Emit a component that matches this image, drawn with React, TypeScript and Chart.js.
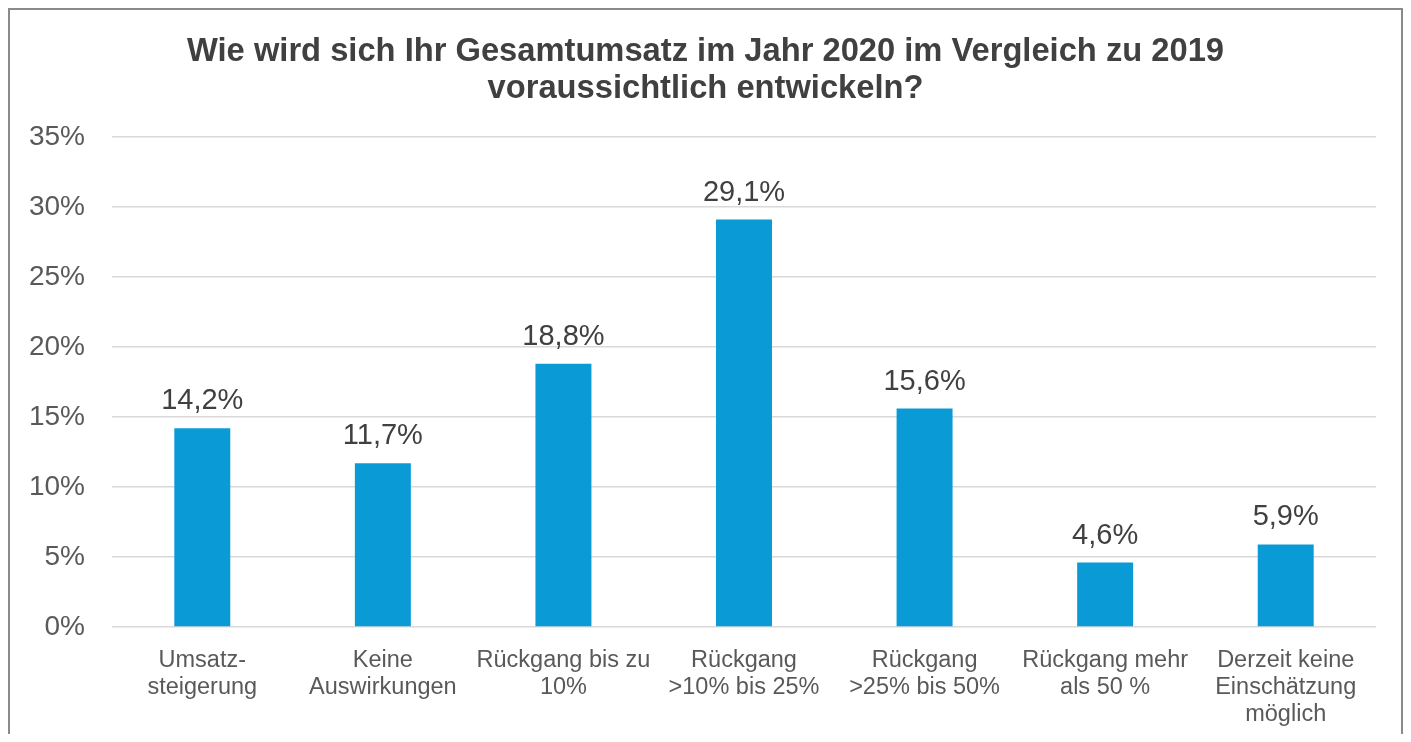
import React, { useEffect, useRef } from "react";
import { Chart, registerables } from "chart.js";

Chart.register(...registerables);

const titleLines = [
  "Wie wird sich Ihr Gesamtumsatz im Jahr 2020 im Vergleich zu 2019",
  "voraussichtlich entwickeln?",
];

const categories: string[][] = [
  ["Umsatz-", "steigerung"],
  ["Keine", "Auswirkungen"],
  ["Rückgang bis zu", "10%"],
  ["Rückgang", ">10% bis 25%"],
  ["Rückgang", ">25% bis 50%"],
  ["Rückgang mehr", "als 50 %"],
  ["Derzeit keine", "Einschätzung", "möglich"],
];

const values = [14.2, 11.7, 18.8, 29.1, 15.6, 4.6, 5.9];

const yMin = 0;
const yMax = 35;
const yStep = 5;

const FONT = "'Liberation Sans', Arial, Helvetica, sans-serif";
const BAR_COLOR = "#0a9bd7";
const TEXT = "#595959";

const fmt = (v: number) => v.toFixed(1).replace(".", ",") + "%";

const valueLabels = {
  id: "valueLabels",
  afterDatasetsDraw(chart: any) {
    const ctx = chart.ctx;
    const meta = chart.getDatasetMeta(0);
    ctx.save();
    ctx.font = `29px ${FONT}`;
    ctx.fillStyle = "#404040";
    ctx.textAlign = "center";
    ctx.textBaseline = "alphabetic";
    meta.data.forEach((el: any, i: number) => {
      ctx.fillText(fmt(values[i]), el.x, el.y - 19);
    });
    ctx.restore();
  },
};

export default function App() {
  const ref = useRef<HTMLCanvasElement | null>(null);

  useEffect(() => {
    if (!ref.current) return;
    const chart = new Chart(ref.current, {
      type: "bar",
      data: {
        labels: categories,
        datasets: [
          {
            data: values,
            backgroundColor: BAR_COLOR,
            borderWidth: 0,
            barPercentage: 0.31,
            categoryPercentage: 1,
            yAxisID: "y",
          },
        ],
      },
      options: {
        responsive: false,
        animation: false,
        layout: { padding: { left: 0, right: 0, top: 0, bottom: 14 } },
        plugins: {
          legend: { display: false },
          tooltip: { enabled: false },
          title: {
            display: true,
            text: titleLines,
            color: "#404040",
            font: { family: FONT, size: 32.7, weight: "bold", lineHeight: 1.13 },
            padding: { top: 24, bottom: 29 },
          },
        },
        scales: {
          x: {
            afterFit: (scale: any) => {
              scale.height = 101;
            },
            grid: { display: false, drawTicks: false },
            border: { display: false },
            ticks: {
              color: TEXT,
              font: { family: FONT, size: 23.5, lineHeight: 1.15 },
              padding: 20,
              maxRotation: 0,
              autoSkip: false,
            },
          },
          y: {
            min: yMin,
            max: yMax,
            afterFit: (scale: any) => {
              scale.width = 102;
            },
            grid: { color: "#d9d9d9", lineWidth: 1.5, drawTicks: false },
            border: { display: false },
            ticks: {
              stepSize: yStep,
              color: TEXT,
              padding: 27,
              font: { family: FONT, size: 28 },
              callback: (v: any) => `${v}%`,
            },
          },
          yRight: {
            position: "right",
            afterFit: (scale: any) => {
              scale.width = 25;
            },
            grid: { display: false, drawTicks: false },
            border: { display: false },
            ticks: { display: false },
          },
        },
      },
      plugins: [valueLabels],
    });
    return () => chart.destroy();
  }, []);

  return (
    <div
      style={{
        width: 1391,
        height: 732,
        marginBottom: -8,
        borderTop: "2px solid #8a8a8a",
        borderLeft: "2px solid #8a8a8a",
        borderRight: "2px solid #8a8a8a",
        background: "#fff",
      }}
    >
      <canvas ref={ref} width={1391} height={732} style={{ display: "block" }} />
    </div>
  );
}
